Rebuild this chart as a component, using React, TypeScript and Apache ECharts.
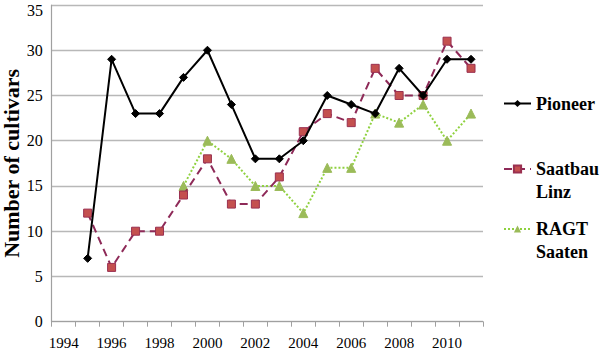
import React, { useEffect, useRef } from "react";
import * as echarts from "echarts";

const years = ["1994","1995","1996","1997","1998","1999","2000","2001","2002","2003","2004","2005","2006","2007","2008","2009","2010","2011"];
const pioneer = [null, 7, 29, 23, 23, 27, 30, 24, 18, 18, 20, 25, 24, 23, 28, 25, 29, 29];
const saatbau = [null, 12, 6, 10, 10, 14, 18, 13, 13, 16, 21, 23, 22, 28, 25, 25, 31, 28];
const ragt = [null, null, null, null, null, 15, 20, 18, 15, 15, 12, 17, 17, 23, 22, 24, 20, 23];
const seriesNames = ["Pioneer", "Saatbau\nLinz", "RAGT\nSaaten"];
const yTitle = "Number of cultivars";
const yMin = 0;
const yMax = 35;
const yStep = 5;

const FONT = "Liberation Serif";

export default function App() {
  const ref = useRef<HTMLDivElement>(null);
  useEffect(() => {
    document.body.style.margin = "0";
    const chart = echarts.init(ref.current!, null, { renderer: "svg" });
    const mkLegend = (name: string, top: number) => ({
      data: [name],
      orient: "vertical",
      left: 503,
      top,
      itemWidth: 27,
      itemHeight: 9,
      itemGap: 0,
      padding: 0,
      formatter: (n: string) => (n.indexOf("\n") >= 0 ? " \n" + n : n),
      textStyle: {
        fontFamily: FONT,
        fontSize: 18,
        fontWeight: "bold",
        color: "#000",
        lineHeight: 23,
      },
    });
    chart.setOption({
      animation: false,
      backgroundColor: "#fff",
      textStyle: { fontFamily: FONT },
      grid: { left: 51.7, right: 117, top: 5, bottom: 29.3, containLabel: false, outerBoundsMode: "none" },
      legend: [
        mkLegend(seriesNames[0], 92),
        mkLegend(seriesNames[1], 134.5),
        mkLegend(seriesNames[2], 194.5),
      ],
      graphic: [
        {
          type: "text",
          right: 600 - 43,
          top: 2,
          style: { text: String(yMax), font: "16px Liberation Serif", fill: "#000", textAlign: "right" },
        },
      ],
      xAxis: {
        type: "category",
        data: years,
        boundaryGap: true,
        axisLine: { lineStyle: { color: "#a0a0a0", width: 1.2 } },
        axisTick: { show: true, interval: 0, length: 5, lineStyle: { color: "#a0a0a0" } },
        axisLabel: { interval: 1, fontFamily: FONT, fontSize: 15, color: "#000", margin: 14 },
        splitLine: { show: false },
      },
      yAxis: {
        type: "value",
        min: yMin,
        max: yMax,
        interval: yStep,
        name: yTitle,
        nameLocation: "middle",
        nameGap: 29,
        nameMoveOverlap: false,
        nameTextStyle: { fontFamily: FONT, fontSize: 22, fontWeight: "bold", color: "#000", lineHeight: 22 },
        axisLine: { show: true, lineStyle: { color: "#a0a0a0", width: 1.2 } },
        axisTick: { show: false },
        axisLabel: {
          fontFamily: FONT,
          fontSize: 16,
          color: "#000",
          margin: 9,
          lineHeight: 16,
          padding: [5, 0, 0, 0],
          showMaxLabel: false,
        },
        splitLine: { lineStyle: { color: "#b8b8b8", width: 1.3 } },
      },
      series: [
        {
          name: seriesNames[0],
          type: "line",
          data: pioneer,
          symbol: "diamond",
          symbolSize: 8,
          lineStyle: { color: "#000", width: 2 },
          itemStyle: { color: "#000", borderColor: "#000" },
          z: 5,
        },
        {
          name: seriesNames[1],
          type: "line",
          data: saatbau,
          symbol: "rect",
          symbolSize: 8,
          lineStyle: { color: "#8e2a58", width: 2, type: [8, 5] },
          itemStyle: { color: "#c4504f", borderColor: "#9a3050", borderWidth: 1 },
          z: 4,
        },
        {
          name: seriesNames[2],
          type: "line",
          data: ragt,
          symbol: "triangle",
          symbolSize: 9,
          lineStyle: { color: "#8fd13f", width: 2, type: [2, 2] },
          itemStyle: { color: "#9bbb59", borderColor: "#9bbb59" },
          z: 3,
        },
      ],
    });
    return () => chart.dispose();
  }, []);
  return <div ref={ref} style={{ width: 600, height: 351 }} />;
}
